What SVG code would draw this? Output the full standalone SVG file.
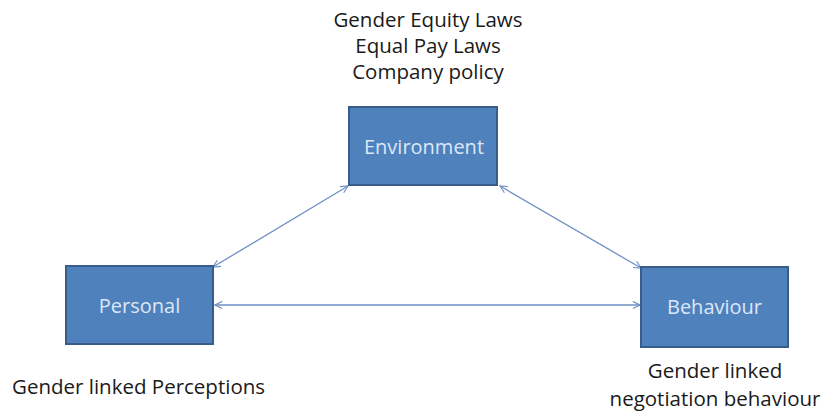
<svg xmlns="http://www.w3.org/2000/svg" width="823" height="412" viewBox="0 0 823 412">
  <style>
    .box { fill: #4f81bd; stroke: #385d8a; stroke-width: 2; }
    .lbl { font-family: "Open Sans", "Liberation Sans", sans-serif; font-size: 20px; fill: #dde8f6; text-anchor: middle; }
    .note { font-family: "Open Sans", "Liberation Sans", sans-serif; font-size: 20.5px; fill: #1a1a1a; }
    .link { stroke: #6e8fc4; stroke-width: 1.3; fill: none; marker-start: url(#ah); marker-end: url(#ah); }
  </style>
  <defs>
    <marker id="ah" viewBox="0 0 10 10" refX="9" refY="5" markerWidth="9" markerHeight="9" orient="auto-start-reverse" markerUnits="userSpaceOnUse">
      <path d="M1,1 L9,5 L1,9" fill="none" stroke="#6e8fc4" stroke-width="1.3"/>
    </marker>
  </defs>
  <rect width="823" height="412" fill="#ffffff"/>

  <g id="connectors">
    <line class="link" x1="348" y1="186" x2="213" y2="267"/>
    <line class="link" x1="500" y1="186" x2="641" y2="268"/>
    <line class="link" x1="215" y1="305" x2="640" y2="305"/>
  </g>

  <g id="environment">
    <rect class="box" x="349" y="107" width="148" height="78"/>
    <text class="lbl" x="424" y="154">Environment</text>
  </g>
  <g id="personal">
    <rect class="box" x="66" y="266" width="147" height="78"/>
    <text class="lbl" x="139.5" y="313">Personal</text>
  </g>
  <g id="behaviour">
    <rect class="box" x="641" y="267" width="147" height="80"/>
    <text class="lbl" x="714.5" y="314">Behaviour</text>
  </g>

  <g id="environment-notes">
    <text class="note" x="428" y="27" text-anchor="middle">Gender Equity Laws</text>
    <text class="note" x="428" y="53" text-anchor="middle">Equal Pay Laws</text>
    <text class="note" x="428" y="79" text-anchor="middle">Company policy</text>
  </g>
  <g id="personal-notes">
    <text class="note" x="12" y="394">Gender linked Perceptions</text>
  </g>
  <g id="behaviour-notes">
    <text class="note" x="715" y="378" text-anchor="middle" font-size="20px">Gender linked</text>
    <text class="note" x="715" y="406" text-anchor="middle" font-size="20px">negotiation behaviour</text>
  </g>
</svg>
